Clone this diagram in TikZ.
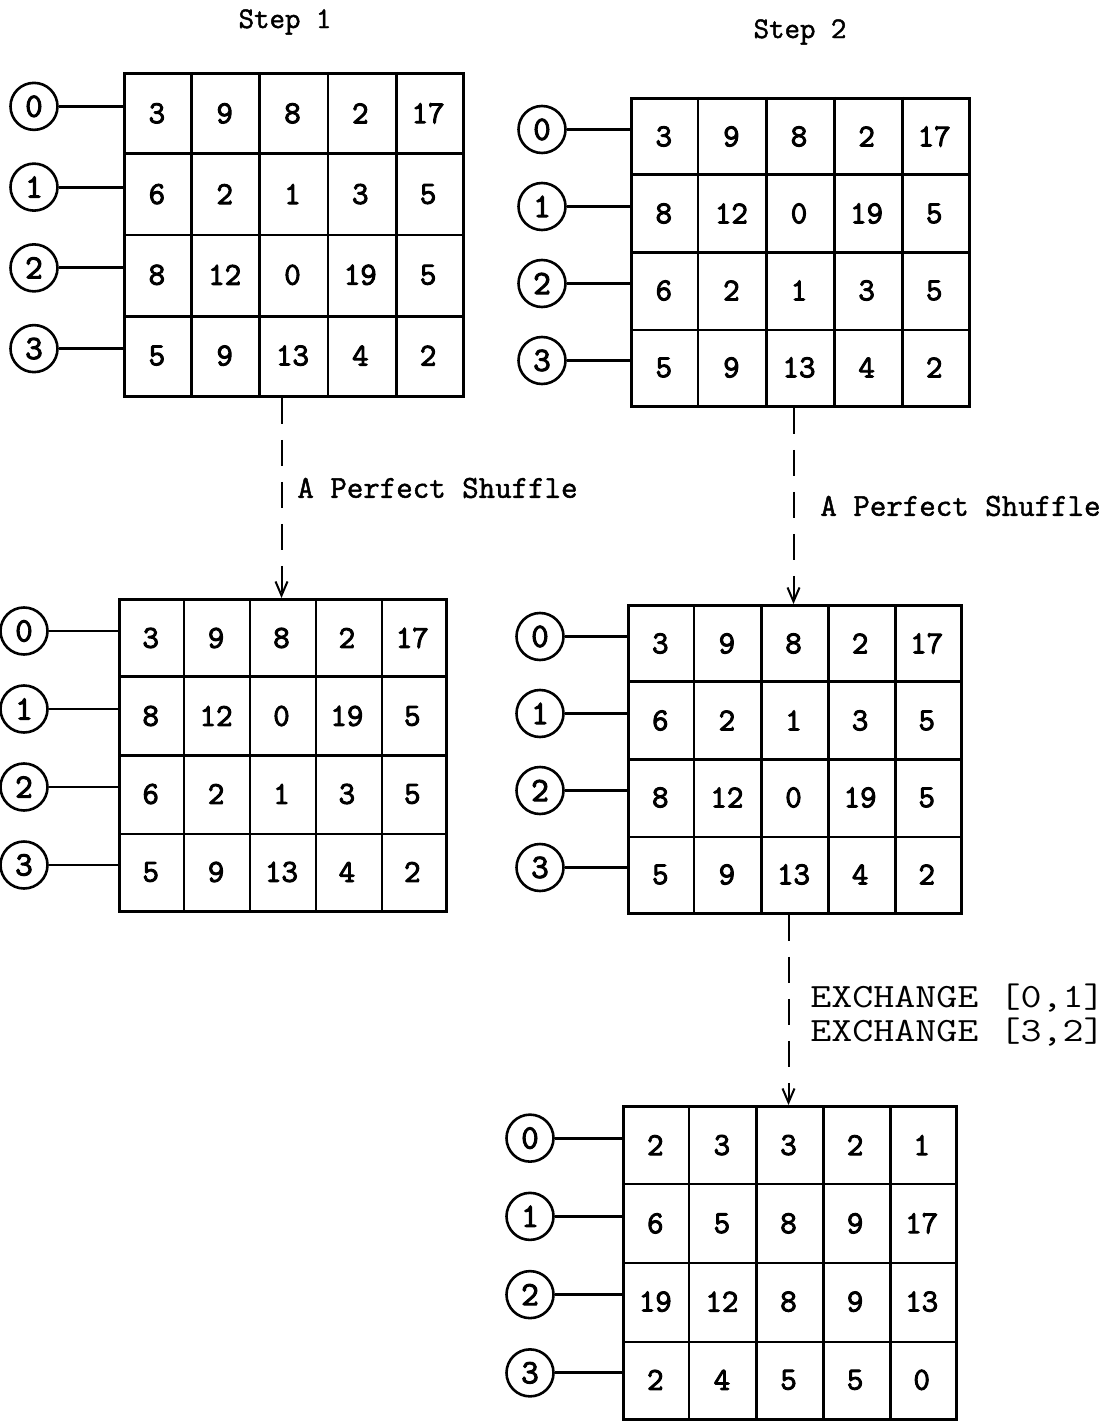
\documentclass[tikz,border=0pt]{standalone}
\usepackage{fontspec}
\usepackage{graphicx}
\newfontfamily\cellfont{Latin Modern Mono}[FakeBold=3]
\newfontfamily\labelfont{Latin Modern Mono}[FakeBold=1.5]
\usetikzlibrary{calc,arrows.meta}

\tikzset{
  gridbox/.style={draw, line width=1.4pt, inner sep=0pt},
  gridline/.style={line width=1.3pt},
  cellnum/.style={font=\cellfont\fontsize{16}{18}\selectfont, inner sep=0pt},
  rowtag/.style={circle, draw, line width=1.3pt, minimum size=23.5pt, inner sep=0pt,
                 font=\cellfont\fontsize{17}{19}\selectfont},
  tagline/.style={line width=1.4pt},
  flowarrow/.style={line width=1pt, dash pattern=on 13pt off 8pt,
                    -{Straight Barb[length=7pt,width=6pt]}},
  steplabel/.style={font=\labelfont\fontsize{15}{18}\selectfont, inner sep=0pt},
  oplabel/.style={font=\labelfont\fontsize{16}{17}\selectfont, inner sep=0pt,
                  anchor=west, align=left},
}

% #1 name, #2 left x, #3 top y, #4 width, #5 height, #6 x of the row tags, #7 rows
\newcommand\numgrid[7]{%
  \node[gridbox, minimum width=#4*0.5pt, minimum height=#5*0.5pt,
        anchor=north west] (#1) at (#2,#3) {};
  \foreach \k in {1,2,3,4}
    \draw[gridline] ($(#1.north west)!\k/5!(#1.north east)$)
                 -- ($(#1.south west)!\k/5!(#1.south east)$);
  \foreach \k in {1,2,3}
    \draw[gridline] ($(#1.north west)!\k/4!(#1.south west)$)
                 -- ($(#1.north east)!\k/4!(#1.south east)$);
  \foreach \row [count=\r] in {#7} {
    \foreach \v [count=\c] in \row {
      \node[cellnum] (#1-\r-\c) at ({#2+(\c-0.5)*#4/5},{#3+(\r-0.5)*#5/4+1}) {\v};
    }
  }
  \foreach \t in {0,1,2,3} {
    \node[rowtag] (#1-t\t) at (#6,{#3+(\t+0.5)*#5/4-6}) {\t};
    \draw[tagline] (#1-t\t.east) -- (#1-t\t.east -| #1.west);
  }
}

\begin{document}
\begin{tikzpicture}[x=0.5pt, y=-0.5pt]
  \useasboundingbox (0,0) rectangle (1117,1422);

  % column headings
  \node[steplabel] (head1) at (285,22) {Step 1};
  \node[steplabel] (head2) at (800,32) {Step 2};

  % Step 1
  \numgrid{ga}{123}{72}{339}{323}{34}
    {{3,9,8,2,17},{6,2,1,3,5},{8,12,0,19,5},{5,9,13,4,2}}
  \numgrid{gb}{118}{598}{327}{312}{24}
    {{3,9,8,2,17},{8,12,0,19,5},{6,2,1,3,5},{5,9,13,4,2}}

  % Step 2
  \numgrid{gc}{630}{97}{338}{308}{542}
    {{3,9,8,2,17},{8,12,0,19,5},{6,2,1,3,5},{5,9,13,4,2}}
  \numgrid{gd}{627}{604}{333}{308}{540}
    {{3,9,8,2,17},{6,2,1,3,5},{8,12,0,19,5},{5,9,13,4,2}}
  \numgrid{ge}{622}{1105}{333}{313}{530}
    {{2,3,3,2,1},{6,5,8,9,17},{19,12,8,9,13},{2,4,5,5,0}}

  % transitions
  \draw[flowarrow] (ga.south -| gb-1-3) -- (gb.north -| gb-1-3);
  \draw[flowarrow] (gc.south -| gd-1-3) -- (gd.north -| gd-1-3);
  \draw[flowarrow] (gd.south -| ge-1-3) -- (ge.north -| ge-1-3);

  \node[oplabel] (op1) at (297,488) {A Perfect Shuffle};
  \node[oplabel] (op2) at (820,506) {A Perfect Shuffle};
  \node[oplabel, font=\ttfamily\fontsize{17}{17}\selectfont] (op3) at (810,1015)
    {\scalebox{1.2}[1]{EXCHANGE [0,1]}\\\scalebox{1.2}[1]{EXCHANGE [3,2]}};
\end{tikzpicture}
\end{document}
